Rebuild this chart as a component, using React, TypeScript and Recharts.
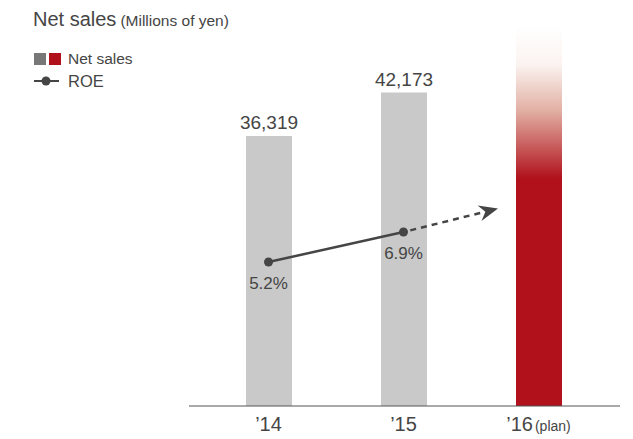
import {
  ComposedChart,
  Bar,
  Line,
  XAxis,
  YAxis,
  Cell,
  LabelList,
  ReferenceLine,
} from 'recharts'

const years = ['’14', '’15', '’16']
const yearNotes = ['', '', '(plan)']
const netSales = [36319, 42173, 51000]
const isPlan = [false, false, true]
const roe = [5.2, 6.9, null]
const roeTrendEnd = 8.8

const GRAY = '#c8c9c8'
const RED = '#b0111b'
const INK = '#454545'
const FONT = '"Liberation Sans", Arial, Helvetica, sans-serif'

const data = years.map((year, i) => ({
  year,
  sales: netSales[i],
  plan: isPlan[i],
  roe: roe[i],
}))

function YearTick({ x, y, payload, index }: any) {
  const note = yearNotes[index]
  return (
    <text x={x} y={y + 17} textAnchor="middle" fill={INK} fontFamily={FONT}>
      <tspan fontSize={20}>{payload.value}</tspan>
      {note ? <tspan fontSize={14} dx={2}>{note}</tspan> : null}
    </text>
  )
}

function SalesLabel({ x, y, width, value, index }: any) {
  if (isPlan[index]) return null
  return (
    <text x={x + width / 2} y={y - 7} textAnchor="middle" fill={INK} fontSize={19} fontFamily={FONT}>
      {Number(value).toLocaleString('en-US')}
    </text>
  )
}

function RoeLabel({ x, y, value }: any) {
  if (value == null) return null
  return (
    <text x={x} y={y + 27} textAnchor="middle" fill={INK} fontSize={17} fontFamily={FONT}>
      {`${value}%`}
    </text>
  )
}

function TrendArrow({ x1, y1, x2, y2 }: any) {
  if ([x1, y1, x2, y2].some((v) => typeof v !== 'number')) return null
  const f = 0.7
  const dx = x2 - x1
  const dy = y2 - y1
  const len = Math.hypot(dx, dy)
  const ux = dx / len
  const uy = dy / len
  const nx = -uy
  const ny = ux
  const tx = x1 + dx * f
  const ty = y1 + dy * f
  const bx = tx - ux * 19
  const by = ty - uy * 19
  const kx = tx - ux * 13
  const ky = ty - uy * 13
  return (
    <g>
      <line
        x1={x1 + ux * 7}
        y1={y1 + uy * 7}
        x2={kx}
        y2={ky}
        stroke={INK}
        strokeWidth={2.5}
        strokeDasharray="6 5"
      />
      <polygon
        points={`${tx},${ty} ${bx + nx * 8},${by + ny * 8} ${kx},${ky} ${bx - nx * 8},${by - ny * 8}`}
        fill={INK}
      />
    </g>
  )
}

export default function App() {
  return (
    <div style={{ position: 'absolute', left: 0, top: 0, width: 633, height: 439, background: '#fff' }}>
      <svg width={633} height={110} style={{ position: 'absolute', left: 0, top: 0 }}>
        <text x={33} y={26} fill={INK} fontFamily={FONT}>
          <tspan fontSize={20}>Net sales</tspan>
          <tspan fontSize={15.5} dx={4}>(Millions of yen)</tspan>
        </text>
        <rect x={34} y={53} width={12} height={12} fill="#777" />
        <rect x={49} y={53} width={12} height={12} fill={RED} />
        <text x={68} y={64} fill={INK} fontSize={15.5} fontFamily={FONT}>Net sales</text>
        <line x1={34} y1={81} x2={59} y2={81} stroke={INK} strokeWidth={2} />
        <circle cx={46} cy={81} r={4.5} fill={INK} />
        <text x={68} y={87} fill={INK} fontSize={16.5} fontFamily={FONT}>ROE</text>
      </svg>
      <ComposedChart
        width={633}
        height={439}
        data={data}
        margin={{ top: 27, right: 13, bottom: 0, left: 189 }}
        style={{ position: 'absolute', left: 0, top: 0 }}
      >
        <defs>
          <linearGradient id="planFade" x1="0" y1="0" x2="0" y2="1">
            <stop offset="0%" stopColor="#ffffff" />
            <stop offset="10%" stopColor="#fbf3f0" />
            <stop offset="22%" stopColor="#e2b0a4" />
            <stop offset="40%" stopColor={RED} />
            <stop offset="100%" stopColor={RED} />
          </linearGradient>
        </defs>
        <XAxis
          dataKey="year"
          axisLine={{ stroke: '#555', strokeWidth: 1.2 }}
          tickLine={false}
          tick={<YearTick />}
          padding={{ left: 12, right: 14 }}
          interval={0}
          height={33}
        />
        <YAxis yAxisId="sales" domain={[0, 51000]} hide />
        <YAxis yAxisId="roe" orientation="right" domain={[-2.96, 18.52]} hide />
        <Bar yAxisId="sales" dataKey="sales" barSize={46} isAnimationActive={false}>
          {data.map((d, i) => (
            <Cell key={i} fill={d.plan ? 'url(#planFade)' : GRAY} />
          ))}
          <LabelList dataKey="sales" content={<SalesLabel />} />
        </Bar>
        <ReferenceLine
          yAxisId="roe"
          segment={[
            { x: years[1], y: roe[1] as number },
            { x: years[2], y: roeTrendEnd },
          ]}
          ifOverflow="visible"
          shape={(p: any) => <TrendArrow {...p} />}
        />
        <Line
          yAxisId="roe"
          dataKey="roe"
          stroke={INK}
          strokeWidth={2.5}
          dot={{ r: 4.5, fill: INK, stroke: INK, strokeWidth: 0 }}
          isAnimationActive={false}
        >
          <LabelList dataKey="roe" content={<RoeLabel />} />
        </Line>
      </ComposedChart>
    </div>
  )
}
